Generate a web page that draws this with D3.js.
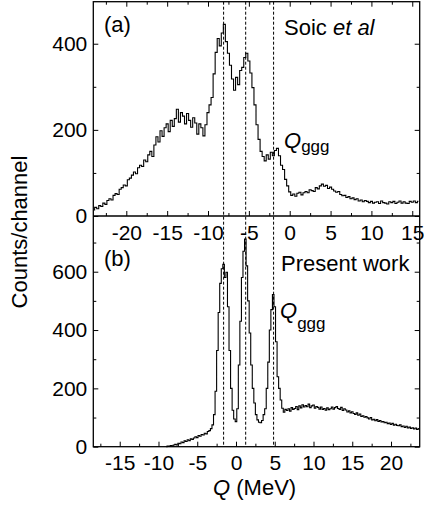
<!DOCTYPE html>
<html lang="en">
<head>
<meta charset="UTF-8">
<style>
  html, body { margin: 0; padding: 0; background: #fff; }
  svg text { font-family: "Liberation Sans", Arial, sans-serif; fill: #000; }
  .axis line { stroke: #000; stroke-width: 1; }
  .axis text { font-size: 21px; }
  .frame { fill: none; stroke: #000; stroke-width: 1.3; }
  .trace { fill: none; stroke: #000; stroke-width: 1.1; }
  .guide { stroke: #000; stroke-width: 1; stroke-dasharray: 3,2; }
  .label { font-size: 22px; }
</style>
<script src="https://d3js.org/d3.v7.min.js"></script>
</head>
<body>
<svg id="chart" width="424" height="506"></svg>
<script>
// Panel (a): Soic et al spectrum, channels 0.25 MeV wide starting at Q = -24
const soicStart = -24, soicStep = 0.25;
const soicCounts = [
  14, 20, 17, 24, 22, 30, 27, 36,
  40, 37, 48, 52, 50, 62, 66, 72,
  70, 84, 88, 95, 102, 98, 112, 118,
  115, 130, 126, 142, 150, 138, 165, 184,
  172, 198, 185, 205, 214, 196, 222, 208,
  226, 248, 218, 240, 232, 214, 238, 222,
  206, 228, 216, 190, 214, 205, 186, 212,
  240, 258, 275, 330, 380, 412, 395, 425,
  445, 405, 378, 350, 318, 292, 322, 305,
  338, 345, 368, 378, 360, 332, 298, 258,
  212, 178, 150, 138, 128, 142, 132, 148,
  140, 152, 157, 140, 118, 108, 85, 70,
  56, 48, 51, 46, 53, 55, 49, 54,
  57, 54, 61, 59, 57, 66, 63, 70,
  74, 69, 71, 64, 67, 62, 58, 55,
  57, 50, 47, 48, 43, 45, 40, 42,
  38, 40, 35, 37, 33, 36, 34, 31,
  34, 30, 32, 33, 29, 35, 31, 30,
  28, 33, 31, 34, 29, 32, 35, 30,
  33, 30, 29, 34, 32, 35, 31, 34
];

// Panel (b): present work, channels 0.2 MeV wide starting at Q = -9
const presentStart = -9, presentStep = 0.2;
const presentCounts = [
  0, 2, 1, 4, 3, 6, 8, 6, 12, 10,
  16, 14, 20, 18, 24, 21, 27, 25, 30, 34,
  31, 38, 36, 42, 40, 46, 44, 52, 55, 62,
  75, 110, 190, 330, 460, 560, 610, 625, 580, 598,
  480, 330, 200, 125, 95, 86, 130, 280, 430, 580,
  670, 712, 620, 500, 390, 280, 200, 150, 110, 92,
  84, 82, 90, 110, 130, 200, 290, 400, 470, 522,
  480, 360, 240, 200, 160, 132, 118, 128, 124, 130,
  122, 134, 128, 131, 138, 127, 140, 133, 144, 136,
  141, 137, 146, 134, 140, 143, 132, 138, 135, 129,
  136, 128, 131, 125, 133, 127, 130, 136, 129, 134,
  138, 131, 128, 135, 124, 130, 126, 119, 123, 116,
  120, 114, 111, 116, 108, 112, 104, 106, 101, 103,
  99, 95, 100, 92, 94, 89, 93, 87, 90, 85,
  86, 82, 84, 79, 81, 76, 80, 74, 77, 73,
  72, 75, 69, 71, 66, 70, 64, 67, 63, 65,
  61, 64, 59, 62
];

// dashed guide lines, in panel (b) Q
const peakQ = [-1.6, 1.25, 4.85];

// tick values
const xTicksA = [-20, -15, -10, -5, 0, 5, 10, 15];
const xMinorA = [-22.5, -17.5, -12.5, -7.5, -2.5, 2.5, 7.5, 12.5];
const xTicksB = [-15, -10, -5, 0, 5, 10, 15, 20];
const xMinorB = [-17.5, -12.5, -7.5, -2.5, 2.5, 7.5, 12.5, 17.5, 22.5];
const yTicksA = [0, 200, 400];
const yMinorA = [100, 300];
const yTicksB = [0, 200, 400, 600];
const yMinorB = [100, 300, 500, 700];

const svg = d3.select("#chart");
const left = 93.3, right = 419.7;
const topA = 1.7, mid = 216, bottomB = 446.7;

const xA = d3.scaleLinear().domain([-24.04, 15.91]).range([left, right]);
const yA = d3.scaleLinear().domain([0, 497.6]).range([mid, topA]);
const xB = d3.scaleLinear().domain([-18.41, 23.70]).range([left, right]);
const yB = d3.scaleLinear().domain([0, 791]).range([bottomB, mid]);

// draws major + minor ticks of one side
function ticks(axisFn, scale, major, minor, pos, showLabels, pad) {
  const g = svg.append("g").attr("class", "axis").attr("transform", pos);
  g.call(axisFn(scale).tickValues(major).tickSizeInner(-5).tickSizeOuter(0)
    .tickPadding(pad || 8)
    .tickFormat(showLabels ? (d => String(d)) : ""));
  g.call(ax => ax.select(".domain").remove());
  const g2 = svg.append("g").attr("class", "axis").attr("transform", pos);
  g2.call(axisFn(scale).tickValues(minor).tickSizeInner(-3).tickSizeOuter(0).tickFormat(""));
  g2.call(ax => ax.select(".domain").remove());
}

// panel (a)
ticks(d3.axisBottom, xA, xTicksA, xMinorA, `translate(0,${mid})`, true, 9);
ticks(d3.axisTop, xA, xTicksA, xMinorA, `translate(0,${topA})`, false);
ticks(d3.axisLeft, yA, yTicksA, yMinorA, `translate(${left},0)`, true, 6);
ticks(d3.axisRight, yA, yTicksA, yMinorA, `translate(${right},0)`, false);

// panel (b)
ticks(d3.axisBottom, xB, xTicksB, xMinorB, `translate(0,${bottomB})`, true, 8);
ticks(d3.axisLeft, yB, yTicksB, yMinorB, `translate(${left},0)`, true, 6);
ticks(d3.axisRight, yB, yTicksB, yMinorB, `translate(${right},0)`, false);

// dashed guides through both panels
svg.selectAll(".guide")
  .data(peakQ)
  .enter()
  .append("line")
  .attr("class", "guide")
  .attr("x1", d => xB(d)).attr("x2", d => xB(d))
  .attr("y1", topA).attr("y2", bottomB);

// spectra
const lineA = d3.line()
  .x((d, i) => xA(soicStart + i * soicStep))
  .y(d => yA(d))
  .curve(d3.curveStep);
svg.append("path").attr("class", "trace").attr("d", lineA(soicCounts));

const lineB = d3.line()
  .x((d, i) => xB(presentStart + i * presentStep))
  .y(d => yB(d))
  .curve(d3.curveStep);
svg.append("path").attr("class", "trace").attr("d", lineB(presentCounts));

// frame
svg.append("rect").attr("class", "frame")
  .attr("x", left).attr("y", topA)
  .attr("width", right - left).attr("height", bottomB - topA);
svg.append("line").attr("class", "frame")
  .attr("x1", left).attr("x2", right).attr("y1", mid).attr("y2", mid);

// labels
svg.append("text").attr("class", "label").attr("x", 104).attr("y", 32).text("(a)");
svg.append("text").attr("class", "label").attr("x", 104).attr("y", 266).text("(b)");

const soic = svg.append("text").attr("class", "label").attr("x", 284).attr("y", 35);
soic.append("tspan").text("Soic ");
soic.append("tspan").attr("font-style", "italic").text("et al");

svg.append("text").attr("class", "label").attr("x", 281).attr("y", 271).text("Present work");

const qa = svg.append("text").attr("class", "label").attr("x", 284).attr("y", 148);
qa.append("tspan").attr("font-style", "italic").text("Q");
qa.append("tspan").attr("font-size", "17px").attr("dy", 4).text("ggg");

const qb = svg.append("text").attr("class", "label").attr("x", 280).attr("y", 318);
qb.append("tspan").attr("font-style", "italic").text("Q");
qb.append("tspan").attr("font-size", "17px").attr("dy", 11).text("ggg");

svg.append("text").attr("class", "label")
  .attr("transform", "translate(27,232) rotate(-90)")
  .attr("text-anchor", "middle")
  .attr("font-size", "19px")
  .text("Counts/channel");

const xl = svg.append("text").attr("class", "label").attr("x", 213).attr("y", 495);
xl.append("tspan").attr("font-style", "italic").text("Q");
xl.append("tspan").text(" (MeV)");
</script>
</body>
</html>
